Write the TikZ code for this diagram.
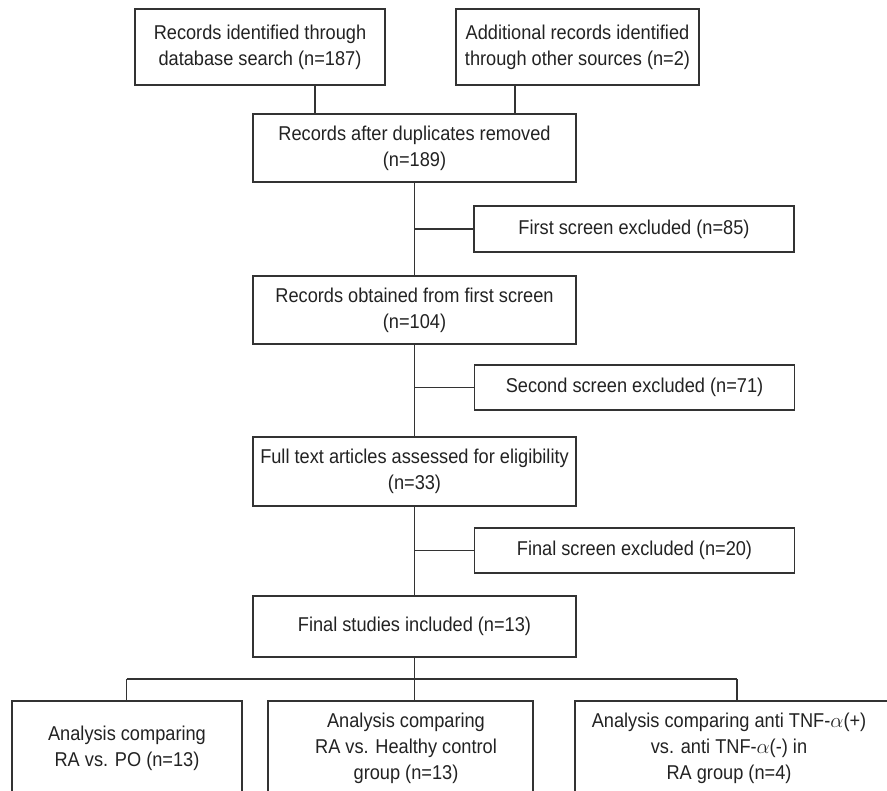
\documentclass[tikz,border=0pt]{standalone}
\usepackage{fontspec}
\setmainfont{Liberation Sans}[FakeStretch=0.91]
\begin{document}
\begin{tikzpicture}[x=1pt,y=-1pt]
\definecolor{linecol}{HTML}{333333}
\definecolor{txtcol}{HTML}{222222}
\tikzset{
  boxn/.style={draw=linecol, line width=1.3pt, inner sep=0pt, align=center,
    text=txtcol, font=\fontsize{20}{26}\selectfont},
  txtn/.style={inner sep=0pt, align=center, text=txtcol,
    font=\fontsize{20}{26}\selectfont},
  conn/.style={draw=linecol, line width=1.3pt}
}
\useasboundingbox (0,0) rectangle (887,791);
\clip (0,0) rectangle (887,791);

% top boxes
\node[boxn, minimum width=250pt, minimum height=76pt] (b1) at (260,47)
  {Records identified through\\database search (n=187)};
\node[boxn, minimum width=243pt, minimum height=76pt] (b2) at (577.5,47)
  {Additional records identified\\through other sources (n=2)};
\node[boxn, minimum width=323pt, minimum height=68pt] (b3) at (414.5,148)
  {Records after duplicates removed\\(n=189)};
\node[boxn, minimum width=320pt, minimum height=46pt] (e1) at (634,229)
  {First screen excluded (n=85)};
\node[boxn, minimum width=323pt, minimum height=68pt] (b4) at (414.5,310)
  {Records obtained from first screen\\(n=104)};
\node[boxn, minimum width=320pt, minimum height=45pt] (e2) at (634.5,387.5)
  {Second screen excluded (n=71)};
\node[boxn, minimum width=323pt, minimum height=69pt] (b5) at (414.5,471.5)
  {Full text articles assessed for eligibility\\(n=33)};
\node[boxn, minimum width=320pt, minimum height=45pt] (e3) at (634.5,550.5)
  {Final screen excluded (n=20)};
\node[boxn, minimum width=323pt, minimum height=61pt] (b6) at (414.5,626.5)
  {Final studies included (n=13)};

% bottom boxes (cut by the page edge)
\node[boxn, minimum width=230pt, minimum height=94pt] (f1) at (127,748) {};
\node[boxn, minimum width=265pt, minimum height=94pt] (f2) at (400.5,748) {};
\node[boxn, minimum width=325pt, minimum height=94pt] (f3) at (737.5,748) {};
\node[txtn] (t1) at (127,748.5) {Analysis comparing\\RA vs. PO (n=13)};
\node[txtn] (t2) at (406,748) {Analysis comparing\\RA vs. Healthy control\\group (n=13)};
\node[txtn] (t3) at (729,748) {Analysis comparing anti TNF-$\alpha$(+)\\vs. anti TNF-$\alpha$(-) in\\RA group (n=4)};

% connectors
\coordinate (d1) at (315,85);
\coordinate (d2) at (515,85);
\draw[conn] (d1) -- (d1 |- b3.north);
\draw[conn] (d2) -- (d2 |- b3.north);
\draw[conn] (b3.south) -- (b4.north);
\draw[conn] (b3.south |- e1.west) -- (e1.west);
\draw[conn] (b4.south) -- (b5.north);
\draw[conn] (b4.south |- e2.west) -- (e2.west);
\draw[conn] (b5.south) -- (b6.north);
\draw[conn] (b5.south |- e3.west) -- (e3.west);

\coordinate (busL) at (126.5,679);
\coordinate (busR) at (737,679);
\draw[conn] (b6.south) -- (b6.south |- f2.north);
\draw[conn] (busL) -- (busR);
\draw[conn] (busL) -- (busL |- f1.north);
\draw[conn] (busR) -- (busR |- f3.north);
\end{tikzpicture}
\end{document}
